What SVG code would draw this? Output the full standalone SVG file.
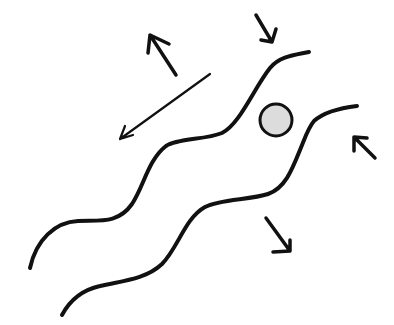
<svg xmlns="http://www.w3.org/2000/svg" width="394" height="325" viewBox="0 0 394 325">
<style>
.wave{fill:none;stroke:#111;stroke-width:4;stroke-linecap:round;stroke-linejoin:round}
.arr{fill:none;stroke:#111;stroke-width:3.5;stroke-linecap:round;stroke-linejoin:round}
.thin{fill:none;stroke:#111;stroke-width:2.2;stroke-linecap:round;stroke-linejoin:round}
</style>
<rect width="394" height="325" fill="#fff"/>
<g id="membrane-upper"><path class="wave" d="M30,268 C36,240 55,222 78,221 C100,220 118,224 132,204 C144,186 148,160 166,146 C178,138 205,140 222,133 C240,124 254,88 270,68 C280,56 295,55 309,52"/></g>
<g id="membrane-lower"><path class="wave" d="M62,315 C70,300 82,290 100,286 C120,281 145,280 162,264 C178,248 185,218 205,207 C220,199 250,200 268,194 C285,188 292,170 300,150 C305,138 308,128 314,121 C324,112 340,108 357,106"/></g>
<g id="particle"><circle cx="276" cy="120" r="16" fill="#dcdcdc" stroke="#111" stroke-width="3"/></g>
<g id="connectors">
<path class="arr" d="M176,75 L150,35 M148,53 L150,35 L169,44"/>
<path class="thin" d="M210,74 L120,139 M125,126 L120,139 L133,135"/>
<path class="arr" d="M256,15 L272,42 M261,40 L272,42 L276,29"/>
<path class="arr" d="M375,158 L354,137 M354,151 L354,137 L367,138"/>
<path class="arr" d="M266,218 L290,251 M273,252 L290,251 L290,240"/>
</g>
</svg>
